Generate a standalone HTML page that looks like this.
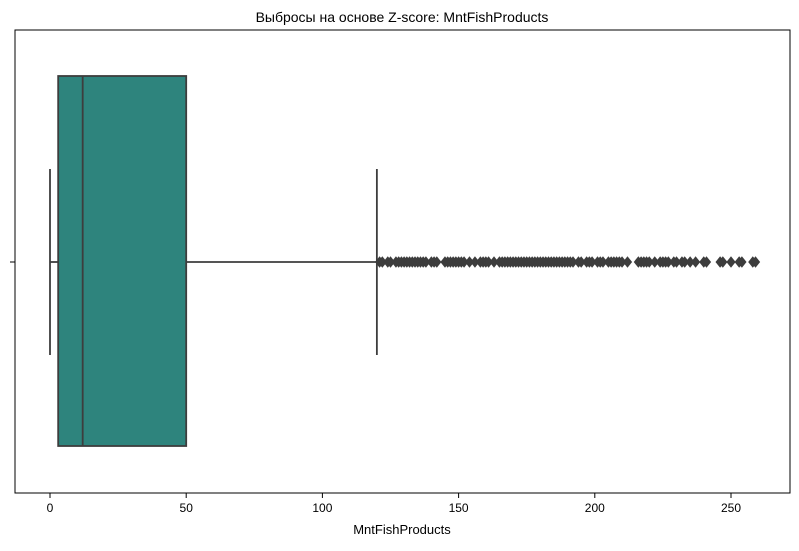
<!DOCTYPE html>
<html><head><meta charset="utf-8"><style>
body{margin:0;background:#fff;font-family:"Liberation Sans",sans-serif}
</style></head><body>
<svg width="799" height="546" font-family="Liberation Sans, DejaVu Sans, sans-serif">
<text x="402" y="22" text-anchor="middle" font-size="14">Выбросы на основе Z-score: MntFishProducts</text>
<g id="plot"></g>
<text x="402" y="534" text-anchor="middle" font-size="13">MntFishProducts</text>
</svg>
<script>
const xTicks=[0,50,100,150,200,250];
const stats={min:0,q1:3,median:12,q3:50,max:120};
const outliers=[121,122,124,125,127,128,129,130,131,132,133,134,135,136,137,138,140,141,142,145,146,147,148,149,150,151,152,154,156,158,159,160,161,163,165,166,167,168,169,170,171,172,173,174,175,176,177,178,179,180,181,182,183,184,185,186,187,188,189,190,191,192,194,195,197,198,199,201,202,203,205,206,207,208,209,210,212,216,217,218,219,220,222,224,225,226,227,229,230,232,233,235,237,240,241,246,247,250,253,254,258,259];
const ns='http://www.w3.org/2000/svg';
const g=document.getElementById('plot');
const L=15,R=790,T=30,B=493;
const x=v=>50+v*(731-50)/250;
const cy=262;
function mk(t,a){const e=document.createElementNS(ns,t);for(const k in a)e.setAttribute(k,a[k]);g.appendChild(e);return e;}
let e;
e=mk('rect',{x:L,y:T,width:R-L,height:B-T,fill:'none',stroke:'#000','stroke-width':1});


xTicks.forEach(t=>{
 e=mk('line',{x1:x(t),x2:x(t),y1:B,y2:B+5,stroke:'#000'});
 
 
 e=mk('text',{x:x(t),y:B+19,'text-anchor':'middle','font-size':12});e.textContent=t;
 
 
});
e=mk('line',{x1:L-5,x2:L,y1:cy,y2:cy,stroke:'#000'});


const st='#3d3d3d';
e=mk('line',{x1:x(stats.min),x2:x(stats.q1),y1:cy,y2:cy,stroke:st,'stroke-width':1.8});


e=mk('line',{x1:x(stats.q3),x2:x(stats.max),y1:cy,y2:cy,stroke:st,'stroke-width':1.8});


e=mk('line',{x1:x(stats.min),x2:x(stats.min),y1:169,y2:355,stroke:st,'stroke-width':1.8});


e=mk('line',{x1:x(stats.max),x2:x(stats.max),y1:169,y2:355,stroke:st,'stroke-width':1.8});


e=mk('rect',{x:x(stats.q1),y:76,width:x(stats.q3)-x(stats.q1),height:370,fill:'#2e847d',stroke:st,'stroke-width':1.8});


e=mk('line',{x1:x(stats.median),x2:x(stats.median),y1:76,y2:446,stroke:st,'stroke-width':1.8});


outliers.forEach(v=>{
 const px=x(v);
 e=mk('path',{d:`M${px-4} ${cy}L${px} ${cy-5}L${px+4} ${cy}L${px} ${cy+5}Z`,fill:st,stroke:st});
 
 
});
</script>
</body></html>
